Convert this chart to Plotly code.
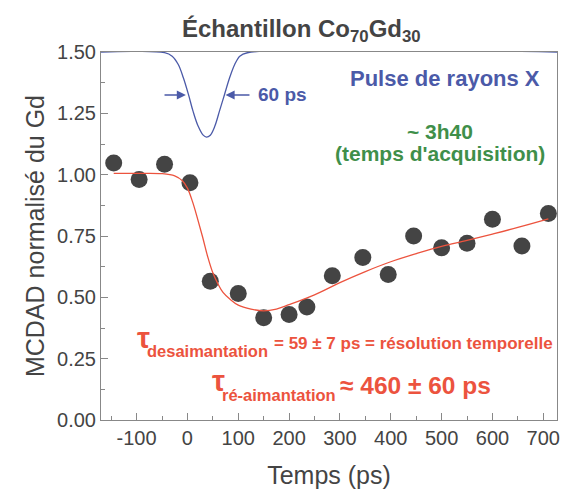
import plotly.graph_objects as go

# points mesurés (MCDAD normalisé du Gd)
temps = [-145, -95, -45, 5, 45, 100, 150, 200, 235, 285, 345, 395, 445, 500, 550, 600, 658, 710]
mcdad = [1.048, 0.980, 1.042, 0.967, 0.566, 0.516, 0.417, 0.430, 0.461, 0.588,
         0.662, 0.593, 0.750, 0.702, 0.720, 0.818, 0.709, 0.842]

# courbe d'ajustement
fit_t = [-145, -100, -50, -25, -10, 0, 10, 20, 30, 40, 50, 60, 70, 85, 100, 125, 150,
         175, 200, 250, 300, 350, 400, 450, 500, 550, 600, 650, 710]
fit_y = [1.005, 1.005, 1.004, 0.995, 0.975, 0.945, 0.89, 0.82, 0.745, 0.665, 0.60, 0.555,
         0.52, 0.49, 0.468, 0.452, 0.445, 0.452, 0.47, 0.51, 0.56, 0.605, 0.645, 0.678,
         0.708, 0.732, 0.758, 0.785, 0.82]

# pulse de rayons X
pulse_t = [-170, -45, -30, -18, -8, 2, 11, 21, 31, 37.5, 45, 54, 63, 73, 83, 93, 103, 118, 727]
pulse_y = [1.50, 1.497, 1.483, 1.449, 1.395, 1.327, 1.259, 1.198, 1.161, 1.153, 1.161,
           1.198, 1.259, 1.327, 1.395, 1.449, 1.483, 1.497, 1.50]

xticks = [-100, 0, 100, 200, 300, 400, 500, 600, 700]
xlabels = ['-100', '0', '100', '200', '300', '400', '500', '600', '700']

BLUE = '#4b5aa8'
GREEN = '#3f8f4a'
RED = '#ec533e'
GREY = '#444444'
FONT = 'Liberation Sans, Arial, sans-serif'

fig = go.Figure()
fig.add_trace(go.Scatter(x=pulse_t, y=pulse_y, mode='lines', line=dict(color=BLUE, width=1.3, shape='spline'),
                         showlegend=False, cliponaxis=False))
fig.add_trace(go.Scatter(x=temps, y=mcdad, mode='markers', marker=dict(size=17, color=GREY),
                         showlegend=False))
fig.add_trace(go.Scatter(x=fit_t, y=fit_y, mode='lines', line=dict(color=RED, width=1.3, shape='spline'),
                         showlegend=False))

ann = []


def txt(x, y, text, size, color, xanchor='left', yanchor='middle', bold=True):
    if bold:
        text = '<b>' + text + '</b>'
    ann.append(dict(x=x, y=y, xref='x', yref='y', text=text, showarrow=False,
                    xanchor=xanchor, yanchor=yanchor, font=dict(family=FONT, size=size, color=color)))


# titre
ann.append(dict(x=(303 - 101) / 459, y=1.0, xref='paper', yref='paper', yshift=22, showarrow=False,
                text='<b>Échantillon Co<sub>70</sub>Gd<sub>30</sub></b>', xanchor='center', yanchor='middle',
                font=dict(family=FONT, size=24, color=GREY)))

txt(698, 1.39, 'Pulse de rayons X', 22, BLUE, xanchor='right')
txt(497, 1.175, '~ 3h40', 21, GREEN, xanchor='center')
txt(497, 1.085, "(temps d'acquisition)", 21, GREEN, xanchor='center')
txt(134, 1.325, '60 ps', 19, BLUE)

# flèches 60 ps
for tail, head in [(-48, -3), (125, 75)]:
    ann.append(dict(x=head, y=1.325, ax=tail, ay=1.325, xref='x', yref='y', axref='x', ayref='y',
                    text='', showarrow=True, arrowhead=2, arrowsize=1.3, arrowwidth=1.4, arrowcolor=BLUE))

# tau désaimantation
txt(-87, 0.335, 'τ', 29, RED, xanchor='center')
txt(-83, 0.28, 'desaimantation', 16.5, RED)
txt(167, 0.31, '= 59 ± 7 ps = résolution temporelle', 17, RED)
# tau ré-aimantation
txt(62, 0.16, 'τ', 29, RED, xanchor='center')
txt(64, 0.10, 'ré-aimantation', 16.5, RED)
txt(297, 0.14, '≈ 460 ± 60 ps', 24.5, RED)

fig.update_layout(
    width=564, height=489,
    margin=dict(l=101, r=4, t=52, b=68),
    paper_bgcolor='white', plot_bgcolor='white',
    font=dict(family=FONT, color=GREY),
    annotations=ann,
)
fig.update_xaxes(range=[-170, 727], tickmode='array', tickvals=xticks, ticktext=xlabels,
                 showline=True, linecolor='#888888', linewidth=1, mirror=True,
                 ticks='inside', ticklen=7, tickcolor='#888888',
                 minor=dict(dtick=50, ticks='inside', ticklen=4, tickcolor='#888888'),
                 showgrid=False, zeroline=False,
                 tickfont=dict(size=20, color=GREY),
                 title=dict(text='Temps (ps)', font=dict(size=25, color=GREY), standoff=18))
fig.update_yaxes(range=[0, 1.5], tickmode='linear', tick0=0, dtick=0.25, tickformat='.2f',
                 showline=True, linecolor='#888888', linewidth=1, mirror=True,
                 ticks='inside', ticklen=7, tickcolor='#888888',
                 minor=dict(dtick=0.125, ticks='inside', ticklen=4, tickcolor='#888888'),
                 showgrid=False, zeroline=False,
                 tickfont=dict(size=20, color=GREY),
                 title=dict(text='MCDAD normalisé du Gd', font=dict(size=25, color=GREY), standoff=5))

fig.write_html('out.html', config={'displayModeBar': False},
               post_script="document.body.style.margin='0';")
